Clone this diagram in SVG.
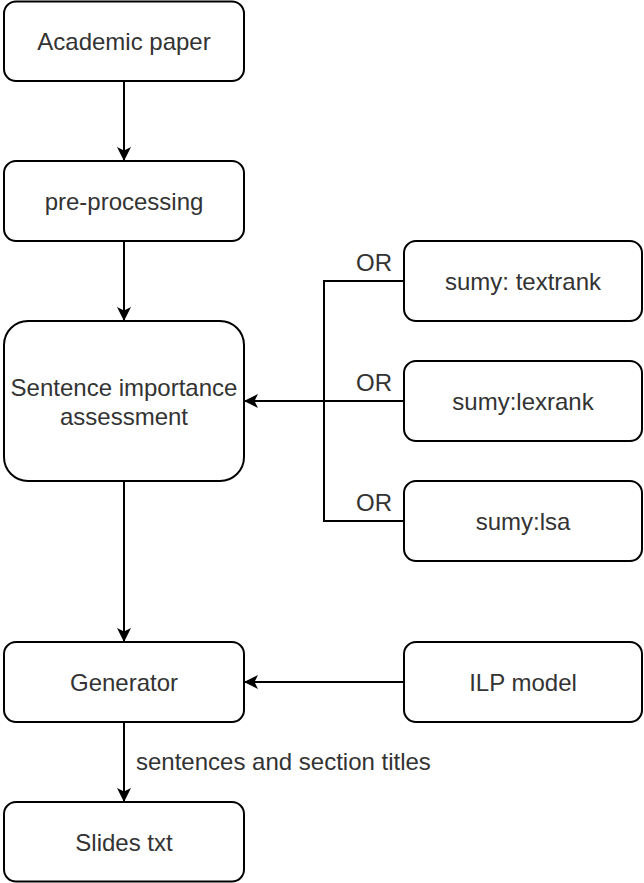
<svg xmlns="http://www.w3.org/2000/svg" width="644" height="883" viewBox="0 0 644 883">
<style>
.box{fill:#fff;stroke:#000;stroke-width:2}
.lbl{font-family:"Liberation Sans",Arial,sans-serif;font-size:24px;fill:#333;text-anchor:middle}
.edge{fill:none;stroke:#000;stroke-width:2}
.el{font-family:"Liberation Sans",Arial,sans-serif;font-size:24px;fill:#333}
</style>
<defs>
<marker id="arr" markerUnits="userSpaceOnUse" markerWidth="16" markerHeight="16" refX="14" refY="7" orient="auto">
<path d="M0,0 L14,7 L0,14 L3.5,7 Z" fill="#000"/>
</marker>
</defs>
<rect width="644" height="883" fill="#fff"/>
<g id="connectors">
<path class="edge" d="M124,81 L124,161" marker-end="url(#arr)"/>
<path class="edge" d="M124,241 L124,321" marker-end="url(#arr)"/>
<path class="edge" d="M124,481 L124,642" marker-end="url(#arr)"/>
<path class="edge" d="M124,722 L124,802" marker-end="url(#arr)"/>
<path class="edge" d="M404,281 L324,281 L324,521 L404,521"/>
<path class="edge" d="M404,401 L244,401" marker-end="url(#arr)"/>
<path class="edge" d="M404,682 L244,682" marker-end="url(#arr)"/>
<text class="el" x="392" y="271" text-anchor="end">OR</text>
<text class="el" x="392" y="391" text-anchor="end">OR</text>
<text class="el" x="392" y="511" text-anchor="end">OR</text>
<text class="el" x="136" y="770">sentences and section titles</text>
</g>
<g id="academic-paper"><rect class="box" x="4" y="1.5" width="240" height="79.5" rx="12"/><text class="lbl" x="124" y="50">Academic paper</text></g>
<g id="pre-processing"><rect class="box" x="4" y="161" width="240" height="80" rx="12"/><text class="lbl" x="124" y="210">pre-processing</text></g>
<g id="sentence-importance"><rect class="box" x="4" y="321" width="240" height="160" rx="24"/><text class="lbl" x="124" y="396">Sentence importance</text><text class="lbl" x="124" y="425">assessment</text></g>
<g id="generator"><rect class="box" x="4" y="642" width="240" height="80" rx="12"/><text class="lbl" x="124" y="691">Generator</text></g>
<g id="slides-txt"><rect class="box" x="4" y="802" width="240" height="79.5" rx="12"/><text class="lbl" x="124" y="851">Slides txt</text></g>
<g id="textrank"><rect class="box" x="404" y="241" width="238" height="80" rx="12"/><text class="lbl" x="523" y="290">sumy: textrank</text></g>
<g id="lexrank"><rect class="box" x="404" y="361" width="238" height="80" rx="12"/><text class="lbl" x="523" y="410">sumy:lexrank</text></g>
<g id="lsa"><rect class="box" x="404" y="481" width="238" height="80" rx="12"/><text class="lbl" x="523" y="530">sumy:lsa</text></g>
<g id="ilp-model"><rect class="box" x="404" y="642" width="238" height="80" rx="12"/><text class="lbl" x="523" y="691">ILP model</text></g>
</svg>
